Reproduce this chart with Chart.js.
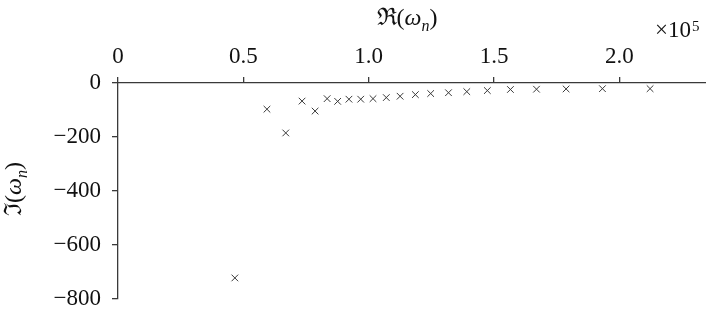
<!DOCTYPE html>
<html>
<head>
<meta charset="utf-8">
<script src="https://cdn.jsdelivr.net/npm/chart.js@4"></script>
<style>
  html, body { margin: 0; padding: 0; background: #fff; }
  #wrap { width: 706px; height: 314px; }
</style>
</head>
<body>
<div id="wrap"><canvas id="chart"></canvas></div>
<script>
// eigenfrequencies: real part (plotted in units of 1e5) vs imaginary part
const realParts = [46600, 59400, 66900, 73400, 78600, 83400, 87600, 92100, 96800, 101700,
  107000, 112500, 118600, 124700, 131800, 139100, 147300, 156500, 166900, 178700, 193200, 212200];
const imagParts = [-722, -97, -185, -67, -104, -58, -68, -60, -60, -58,
  -54, -49, -43, -39, -36, -32, -28, -24, -23, -22, -21, -21];

const xTicks = [0, 50000, 100000, 150000, 200000];
const xTickLabels = ['0', '0.5', '1.0', '1.5', '2.0'];
const yTicks = [0, -200, -400, -600, -800];
const yTickLabels = ['0', '\u2212200', '\u2212400', '\u2212600', '\u2212800'];

const points = realParts.map((re, i) => ({ x: re, y: imagParts[i] }));

const serif = "'Liberation Serif', 'DejaVu Serif', serif";
const axisCol = '#3a3a3a';

// axis titles with subscripts and the x10^5 multiplier
const titlesPlugin = {
  id: 'titles',
  afterDraw(chart) {
    const ctx = chart.ctx;
    ctx.save();
    ctx.fillStyle = '#111';
    ctx.textBaseline = 'alphabetic';

    function drawMath(cx, base, letter) {
      const parts = [
        { t: letter + '(', f: '24px ' + serif, dy: 0 },
        { t: '\u03C9', f: 'italic 24px ' + serif, dy: 0 },
        { t: 'n', f: 'italic 16px ' + serif, dy: 6 },
        { t: ')', f: '24px ' + serif, dy: 0 }
      ];
      let w = 0;
      parts.forEach(p => { ctx.font = p.f; p.w = ctx.measureText(p.t).width; w += p.w; });
      let x = cx - w / 2;
      ctx.textAlign = 'left';
      parts.forEach(p => { ctx.font = p.f; ctx.fillText(p.t, x, base + p.dy); x += p.w; });
    }

    drawMath(407, 25, '\u211C');

    ctx.save();
    ctx.translate(21, 189);
    ctx.rotate(-Math.PI / 2);
    drawMath(0, 0, '\u2111');
    ctx.restore();

    ctx.textAlign = 'left';
    ctx.font = '23px ' + serif;
    ctx.fillText('\u00D710', 655, 37);
    ctx.font = '15px ' + serif;
    ctx.fillText('5', 692, 31);
    ctx.restore();
  }
};

const noPad = scale => {
  scale.paddingLeft = 0; scale.paddingRight = 0;
  scale.paddingTop = 0; scale.paddingBottom = 0;
};

const ctx = document.getElementById('chart').getContext('2d');
const myChart = new Chart(ctx, {
  type: 'scatter',
  data: {
    datasets: [{
      data: points,
      pointStyle: 'crossRot',
      pointRadius: 4.7,
      pointHoverRadius: 4.7,
      borderWidth: 1,
      borderColor: axisCol,
      backgroundColor: axisCol
    }]
  },
  options: {
    responsive: true,
    maintainAspectRatio: false,
    animation: false,
    layout: { autoPadding: false, padding: { top: 0, left: 0, right: 0, bottom: 15 } },
    plugins: { legend: { display: false }, tooltip: { enabled: false } },
    scales: {
      x: {
        type: 'linear',
        position: 'top',
        min: 0,
        max: 234500,
        afterBuildTicks: scale => { scale.ticks = xTicks.map(v => ({ value: v })); },
        afterFit: scale => { scale.height = 83; noPad(scale); },
        grid: { drawOnChartArea: false, drawTicks: true, tickLength: 6, color: axisCol, lineWidth: 1.3 },
        border: { display: true, color: axisCol, width: 1.3 },
        ticks: {
          padding: 6,
          maxRotation: 0,
          color: '#111',
          font: { family: serif, size: 23 },
          callback: v => xTickLabels[xTicks.indexOf(v)]
        }
      },
      y: {
        type: 'linear',
        min: -800,
        max: 0,
        afterBuildTicks: scale => { scale.ticks = yTicks.slice().reverse().map(v => ({ value: v })); },
        afterFit: scale => { scale.width = 118; noPad(scale); },
        grid: { drawOnChartArea: false, drawTicks: true, tickLength: 6, color: axisCol, lineWidth: 1.3 },
        border: { display: true, color: axisCol, width: 1.3 },
        ticks: {
          padding: 11,
          color: '#111',
          font: { family: serif, size: 23 },
          callback: v => yTickLabels[yTicks.indexOf(v)]
        }
      }
    }
  },
  plugins: [titlesPlugin]
});
</script>
</body>
</html>
